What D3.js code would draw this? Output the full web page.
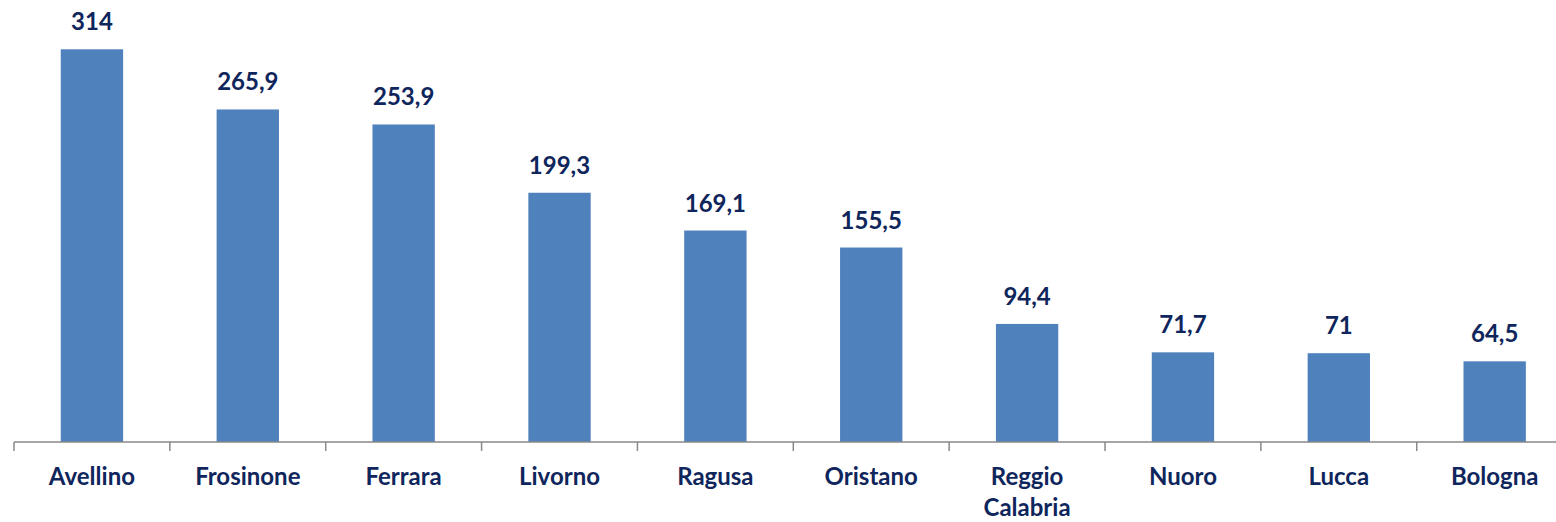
<!DOCTYPE html>
<html>
<head>
<meta charset="utf-8">
<script src="https://cdn.jsdelivr.net/npm/d3@7.9.0/dist/d3.min.js"></script>
<style>
  html, body { margin: 0; padding: 0; background: white; }
  svg { display: block; }
</style>
</head>
<body>
<div id="chart"></div>
<script>
const categories = ["Avellino", "Frosinone", "Ferrara", "Livorno", "Ragusa",
  "Oristano", "Reggio Calabria", "Nuoro", "Lucca", "Bologna"];
const values = [314, 265.9, 253.9, 199.3, 169.1, 155.5, 94.4, 71.7, 71, 64.5];

const width = 1556;
const height = 522;
const baseline = 442;
const step = 155.86;
const left = 14;

const data = categories.map((c, i) => ({ name: c, value: values[i] }));

const svg = d3.select("#chart")
  .append("svg")
  .attr("width", width)
  .attr("height", height)
  .style("font-family", "Lato, 'Open Sans', sans-serif");

const x = d3.scaleBand()
  .domain(categories)
  .range([left, left + step * categories.length])
  .paddingInner(0.6)
  .paddingOuter(0.3);

const y = d3.scaleLinear()
  .domain([0, 314])
  .range([baseline, 49.3]);

const fmt = v => String(v).replace(".", ",");

// bars
svg.append("g")
  .selectAll("rect")
  .data(data)
  .join("rect")
  .attr("x", d => x(d.name))
  .attr("y", d => y(d.value))
  .attr("width", x.bandwidth())
  .attr("height", d => y(0) - y(d.value))
  .attr("fill", "#4f81bd");

// value labels
svg.append("g")
  .selectAll("text")
  .data(data)
  .join("text")
  .attr("x", d => x(d.name) + x.bandwidth() / 2)
  .attr("y", d => y(d.value) - 19)
  .attr("text-anchor", "middle")
  .attr("font-size", "24px")
  .attr("font-weight", "bold")
  .attr("fill", "#0f265c")
  .text(d => fmt(d.value));

// axis line and boundary ticks
const axis = svg.append("g").attr("stroke", "#898989").attr("stroke-width", 1.5);
axis.append("line")
  .attr("x1", x.range()[0])
  .attr("x2", width)
  .attr("y1", baseline)
  .attr("y2", baseline);

const gap = x.step() - x.bandwidth();
const bounds = categories.map(c => x(c) - gap / 2).concat([x.range()[1]]);
axis.selectAll("line.tick")
  .data(bounds)
  .join("line")
  .attr("class", "tick")
  .attr("x1", d => d)
  .attr("x2", d => d)
  .attr("y1", baseline)
  .attr("y2", baseline + 9);

// category labels
const labels = svg.append("g")
  .selectAll("text")
  .data(data)
  .join("text")
  .attr("x", d => x(d.name) + x.bandwidth() / 2)
  .attr("y", 485)
  .attr("text-anchor", "middle")
  .attr("font-size", "24px")
  .attr("font-weight", "bold")
  .attr("fill", "#0f265c");

labels.each(function (d) {
  const words = d.name.split(" ");
  const t = d3.select(this);
  words.forEach((w, i) => {
    t.append("tspan")
      .attr("x", x(d.name) + x.bandwidth() / 2)
      .attr("dy", i === 0 ? 0 : 31)
      .text(w);
  });
});
</script>
</body>
</html>
